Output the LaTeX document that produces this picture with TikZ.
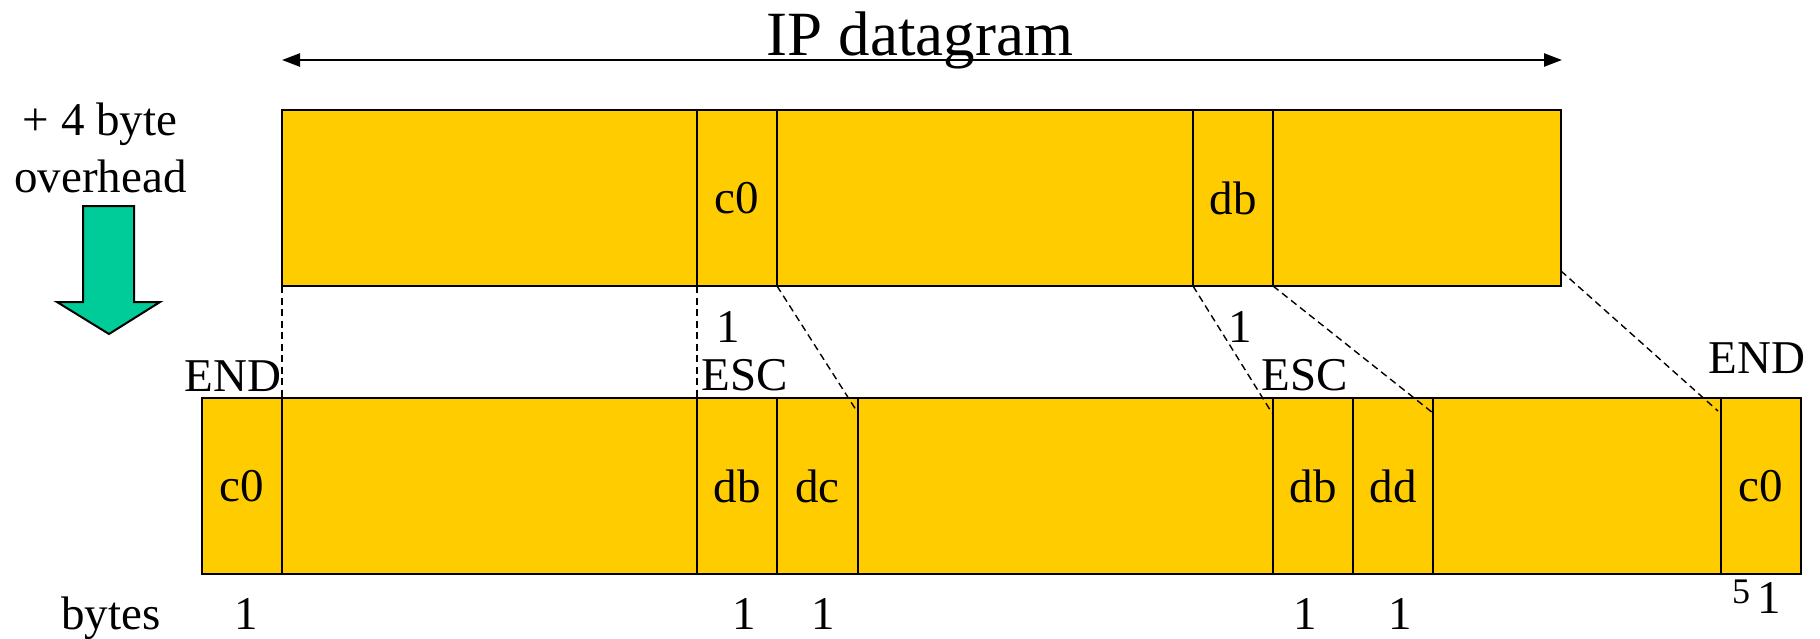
\documentclass[tikz,border=0pt]{standalone}
\usepackage{fontspec}
\setmainfont{Liberation Serif}
\usetikzlibrary{arrows.meta,calc}
\definecolor{cellyellow}{RGB}{255,204,0}
\definecolor{arrowgreen}{RGB}{0,204,153}
\begin{document}
\begin{tikzpicture}[x=1pt,y=-1pt,
  cell/.style={draw=black,fill=cellyellow,line width=2pt,rectangle,inner sep=0pt,outer sep=0pt,
    minimum height=176pt,font=\fontsize{47}{56}\selectfont},
  lbl/.style={inner sep=0pt,anchor=base,font=\fontsize{47}{56}\selectfont},
  small/.style={inner sep=0pt,anchor=base,font=\fontsize{36}{42}\selectfont},
  dline/.style={draw=black,line width=1.4pt,dash pattern=on 7pt off 4.5pt}]
\useasboundingbox (0,0) rectangle (1820,638);
% top row
\node[cell,minimum width=415pt] (t1) at (489.5,198) {};
\node[cell,minimum width=80pt] (t2) at (737,198) {c0};
\node[cell,minimum width=416pt] (t3) at (985,198) {};
\node[cell,minimum width=80pt] (t4) at (1233,198) {db};
\node[cell,minimum width=288pt] (t5) at (1417,198) {};
% bottom row
\node[cell,minimum width=80pt] (b1) at (242,486) {c0};
\node[cell,minimum width=415pt] (b2) at (489.5,486) {};
\node[cell,minimum width=80pt] (b3) at (737,486) {db};
\node[cell,minimum width=81pt] (b4) at (817.5,486) {dc};
\node[cell,minimum width=415pt] (b5) at (1065.5,486) {};
\node[cell,minimum width=80pt] (b6) at (1313,486) {db};
\node[cell,minimum width=80pt] (b7) at (1393,486) {dd};
\node[cell,minimum width=288pt] (b8) at (1577,486) {};
\node[cell,minimum width=80pt] (b9) at (1761,486) {c0};
% dashed mapping lines
\coordinate (e3) at ($(b5.north west)+(0,15)$);
\coordinate (e4) at ($(b6.north west)+(-1,15)$);
\coordinate (e5) at ($(b8.north west)+(0,15)$);
\coordinate (s6) at ($(t5.south east)+(0,-15)$);
\coordinate (e6) at ($(b9.north west)+(-3,13)$);
\draw[dline] (t1.south west) -- (b2.north west);
\draw[dline] (t2.south west) -- (b3.north west);
\draw[dline] (t3.south west) -- (e3);
\draw[dline] (t4.south west) -- (e4);
\draw[dline] (t5.south west) -- (e5);
\draw[dline] (s6) -- (e6);
% IP datagram arrow
\coordinate (aL) at (282,60);
\coordinate (aR) at (1562,60);
\draw[line width=2.4pt,{Triangle[length=18pt,width=13pt]}-{Triangle[length=18pt,width=13pt]}] (aL) -- (aR);
\node[inner sep=0pt,anchor=base,font=\fontsize{63}{74}\selectfont] (title) at (920,55) {IP datagram};
% overhead text and arrow
\node[lbl] (ov1) at (100,135) {+ 4 byte};
\node[lbl] (ov2) at (100.5,192) {overhead};
\draw[line width=2pt,fill=arrowgreen] (83,206) -- (134,206) -- (134,302) -- (160,302) -- (109,334) -- (57,302) -- (83,302) -- cycle;
% labels above bottom row
\node[lbl] (one1) at (728,342) {1};
\node[lbl] (esc1) at (745,390) {ESC};
\node[lbl] (one2) at (1240,342) {1};
\node[lbl] (esc2) at (1305,390) {ESC};
\node[lbl] (endL) at (233,391) {END};
\node[lbl] (endR) at (1757,373) {END};
% byte counts
\node[lbl] (bytes) at (111,629) {bytes};
\node[lbl] (n1) at (246,629) {1};
\node[lbl] (n2) at (744,629) {1};
\node[lbl] (n3) at (823,629) {1};
\node[lbl] (n4) at (1305,629) {1};
\node[lbl] (n5) at (1400,629) {1};
\node[small] (n6) at (1741,603) {5};
\node[lbl] (n7) at (1769,613) {1};
\end{tikzpicture}
\end{document}
